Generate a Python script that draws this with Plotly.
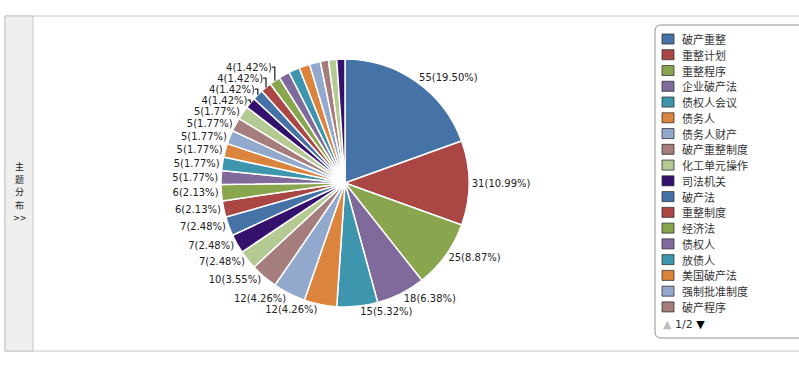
import plotly.graph_objects as go

# ---- data ----
labels = [
    "破产重整", "重整计划", "重整程序", "企业破产法", "债权人会议", "债务人",
    "债务人财产", "破产重整制度", "化工单元操作", "司法机关", "破产法", "重整制度",
    "经济法", "债权人", "放债人", "美国破产法", "强制批准制度", "破产程序",
    "破产清算", "破产和解", "管理人", "上市公司", "公司治理", "担保债权",
    "债转股", "预重整", "破产管理人", "清算程序", "债务重组", "企业重组",
]
values = [55, 31, 25, 18, 15, 12, 12, 10, 7, 7, 7, 6, 6, 5, 5, 5, 5, 5, 5,
          4, 4, 4, 4, 4, 4, 4, 4, 3, 3, 3]
# number of slices whose data label is shown (the rest are hidden in the original)
n_labeled = 23
palette = ["#4572A7", "#AA4643", "#89A54E", "#80699B", "#3D96AE",
           "#DB843D", "#92A8CD", "#A47D7C", "#B5CA92", "#35116e"]
legend_page_size = 18
pager_text = "1/2"
tab_title = ["主", "题", "分", "布", ">>"]

W, H = 799, 367
total = sum(values)
colors = [palette[i % len(palette)] for i in range(len(values))]
texts = [f"{v}({v / total * 100:.2f}%)" if i < n_labeled else ""
         for i, v in enumerate(values)]


def px(x):
    return x / W


def py(y):
    return 1 - y / H


fig = go.Figure()
fig.add_trace(go.Pie(
    labels=labels,
    values=values,
    text=texts,
    textinfo="text",
    textposition="outside",
    sort=False,
    direction="clockwise",
    rotation=0,
    marker=dict(colors=colors, line=dict(color="white", width=1.5)),
    outsidetextfont=dict(family="DejaVu Sans", size=10, color="#222"),
    showlegend=False,
    domain=dict(x=[px(221), px(469)], y=[py(307), py(59)]),
    hoverinfo="label+value+percent",
))

shapes = []
# outer panel
shapes.append(dict(type="rect", xref="paper", yref="paper",
                   x0=px(5), x1=px(810), y0=py(351), y1=py(16),
                   line=dict(color="#c4c4c4", width=1), fillcolor="rgba(0,0,0,0)",
                   layer="below"))
# left tab
shapes.append(dict(type="rect", xref="paper", yref="paper",
                   x0=px(5), x1=px(33), y0=py(351), y1=py(16),
                   line=dict(color="#c4c4c4", width=1), fillcolor="#efefef",
                   layer="below"))
# legend box (rounded)
lx0, lx1, ly0, ly1, r = 655, 812, 25, 338, 6
path = (f"M {px(lx0 + r)},{py(ly0)} L {px(lx1)},{py(ly0)} L {px(lx1)},{py(ly1)} "
        f"L {px(lx0 + r)},{py(ly1)} Q {px(lx0)},{py(ly1)} {px(lx0)},{py(ly1 - r)} "
        f"L {px(lx0)},{py(ly0 + r)} Q {px(lx0)},{py(ly0)} {px(lx0 + r)},{py(ly0)} Z")
shapes.append(dict(type="path", xref="paper", yref="paper", path=path,
                   line=dict(color="#909090", width=1), fillcolor="white",
                   layer="below"))

annotations = []
# legend entries (first page)
step = 15.76
for i in range(legend_page_size):
    yc = 39 + i * step
    shapes.append(dict(type="rect", xref="paper", yref="paper",
                       x0=px(662), x1=px(674), y0=py(yc + 5), y1=py(yc - 5),
                       line=dict(color="#333", width=0.8), fillcolor=colors[i]))
    annotations.append(dict(x=px(680), y=py(yc), xref="paper", yref="paper",
                            text=labels[i], showarrow=False, xanchor="left",
                            yanchor="middle",
                            font=dict(family="Noto Sans CJK SC", size=11, color="#333")))
# pager
annotations.append(dict(
    x=px(661), y=py(324), xref="paper", yref="paper", showarrow=False,
    xanchor="left", yanchor="middle",
    text=(f"<span style='color:#bbbbbb'>▲</span>"
          f"<span style='color:#333'> {pager_text} </span>"
          f"<span style='color:#000'>▼</span>"),
    font=dict(family="DejaVu Sans", size=11, color="#333")))
# left tab vertical title, one character per line
for k, ch in enumerate(tab_title):
    annotations.append(dict(
        x=px(19), y=py(166 + k * 13), xref="paper", yref="paper", showarrow=False,
        xanchor="center", yanchor="middle", text=ch,
        font=dict(family="Noto Sans CJK SC" if k < 4 else "DejaVu Sans",
                  size=9 if k < 4 else 8, color="#222")))

fig.update_layout(
    width=W, height=H,
    margin=dict(l=0, r=0, t=0, b=0),
    paper_bgcolor="white",
    plot_bgcolor="white",
    shapes=shapes,
    annotations=annotations,
)

fig.write_html(
    "out.html",
    config={"displayModeBar": False},
    post_script="document.body.style.margin='0';document.body.style.overflow='hidden';",
)
